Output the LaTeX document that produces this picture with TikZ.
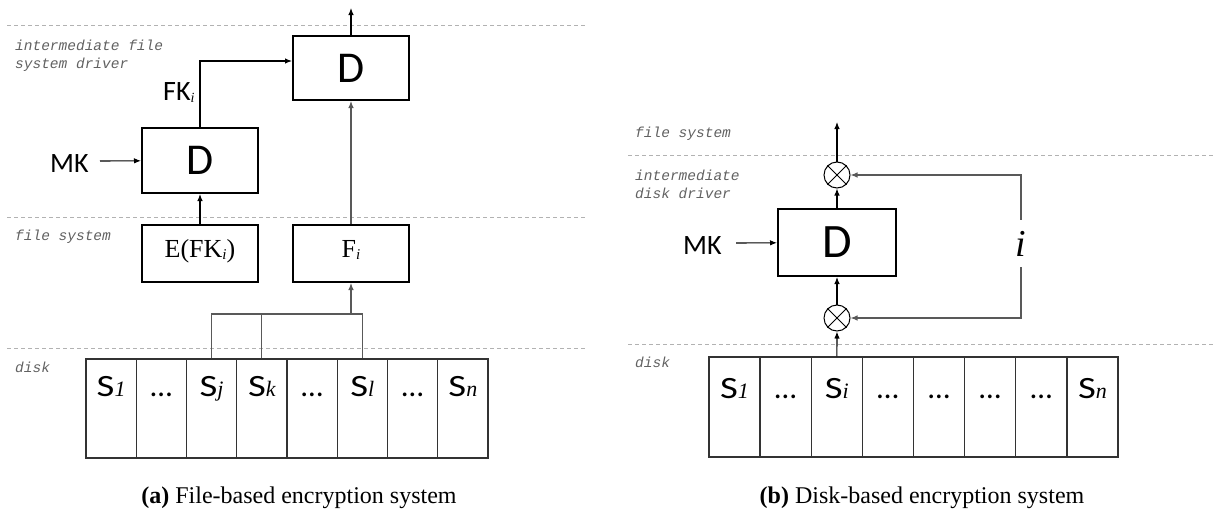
\documentclass[tikz,border=0pt]{standalone}
\usepackage{fontspec}
\usepackage{graphicx}
\setmainfont{Liberation Serif}
\newfontfamily\calib{Carlito}
\newfontfamily\monof{Liberation Mono}
\usetikzlibrary{arrows.meta}
\newcommand\fsz[1]{\fontsize{#1}{#1}\selectfont}
\newcommand\Ssub[1]{{\calib\fsz{31}\scalebox{1.25}[1]{S}}{\fsz{22}\itshape #1}}
\newcommand\Dots{{\calib\fsz{31}…}}
\begin{document}
\begin{tikzpicture}[x=1pt,y=-1pt,
  arr/.style={-{Latex[length=7pt,width=5.5pt]}, line width=1.1pt},
  gc/.style={draw=black!65},
  box/.style={draw, line width=2pt, inner sep=0pt},
  cell/.style={draw=black!80, line width=1.3pt, inner sep=0pt},
  dashl/.style={draw=black!30, line width=1pt, dash pattern=on 4pt off 3pt},
  lay/.style={font=\monof\itshape\fsz{14.5}, text=black!62, inner sep=0pt, anchor=base west},
  big/.style={font=\calib\fsz{28}, inner sep=0pt},
  dlab/.style={font=\calib\fsz{44}},
  captxt/.style={anchor=base, font=\fsz{24}, inner sep=0pt},
  xcirc/.style={circle, draw, line width=1pt, minimum size=26pt, inner sep=0pt}]
\useasboundingbox (0,0) rectangle (1213,514);

% ---------------- left panel ----------------
\draw[dashl] (7,25) -- (585,25);
\draw[dashl] (7,217) -- (585,217);
\draw[dashl] (7,348) -- (585,348);
\node[lay] (lab1a) at (15,50) {intermediate file};
\node[lay] (lab1b) at (15,68) {system driver};
\node[lay] (lab2) at (15,240) {file system};
\node[lay] (lab3) at (15,372) {disk};

\node[box, minimum width=116pt, minimum height=64pt, dlab] (topD) at (351,68) {D};
\node[box, minimum width=116pt, minimum height=65pt, dlab] (lowD) at (200,160.5) {D};
\node[box, minimum width=116pt, minimum height=57pt] (efk) at (200,253.5) {};
\node[box, minimum width=116pt, minimum height=57pt] (fi) at (351,253.5) {};
\node[anchor=base, inner sep=0pt, font=\fsz{26}] (efkt) at (200,257) {E(FK\raisebox{-2pt}{\fsz{15}\itshape i})};
\node[anchor=base, inner sep=0pt, font=\fsz{26}] (fit) at (351,257) {F\raisebox{-2pt}{\fsz{15}\itshape i}};
\node[big, anchor=base west] (mkl) at (50,172) {MK};
\node[big, anchor=base west] (fkl) at (163,100) {FK\raisebox{-2pt}{\rmfamily\fsz{14}\itshape i}};
\coordinate (outL) at (351,8);
\coordinate (mk1) at (100,161);
\coordinate (fkin) at (292,61);
\coordinate (br) at (351,314);

\foreach \k/\t in {1/{\Ssub{1}},2/{\Dots},3/{\Ssub{j}},4/{\Ssub{k}},5/{\Dots},6/{\Ssub{l}},7/{\Dots},8/{\Ssub{n}}}{
  \node[cell, minimum width=50.25pt, minimum height=99pt] (lc\k) at ({86+50.25*(\k-0.5)},408.5) {};
  \node[anchor=base, inner sep=0pt] (lt\k) at ({86+50.25*(\k-0.5)},396) {\t};
}

\draw[arr] (topD) -- (outL);
\draw[arr] (mk1) -- (lowD);
\draw[arr] (efk) -- (lowD);
\draw[arr] (lowD.north) |- (fkin);
\draw[arr, gc] (fi) -- (topD);
\draw[gc, line width=1.1pt] (lc3.north) |- (lc6.north |- br) -- (lc6.north);
\draw[gc, line width=1.1pt] (lc4.north) -- (lc4.north |- br);
\draw[arr, gc] (br) -- (fi);

\node[captxt] (capa) at (299,503) {\textbf{(a)} File-based encryption system};

% ---------------- right panel ----------------
\draw[dashl] (628,155) -- (1213,155);
\draw[dashl] (628,344) -- (1213,344);
\node[lay] (rlab1) at (635,137) {file system};
\node[lay] (rlab2a) at (635,180) {intermediate};
\node[lay] (rlab2b) at (635,198) {disk driver};
\node[lay] (rlab3) at (635,367) {disk};

\node[box, minimum width=118pt, minimum height=67pt, font=\calib\fsz{48}] (rD) at (837,242.5) {D};
\node[xcirc] (ct) at (837,175) {};
\node[xcirc] (cb) at (837,318) {};
\draw[line width=1pt] (ct.north west) -- (ct.south east) (ct.north east) -- (ct.south west);
\draw[line width=1pt] (cb.north west) -- (cb.south east) (cb.north east) -- (cb.south west);
\node[big, anchor=base west] (mkr) at (683,254) {MK};
\node[inner sep=0pt, minimum height=47pt, font=\fsz{38}\itshape] (ilab) at (1021,243.5) {i};
\coordinate (outR) at (837,122);
\coordinate (mk2) at (736,243);

\foreach \k/\t in {1/{\Ssub{1}},2/{\Dots},3/{\Ssub{i}},4/{\Dots},5/{\Dots},6/{\Dots},7/{\Dots},8/{\Ssub{n}}}{
  \node[cell, minimum width=51.125pt, minimum height=100pt] (rc\k) at ({709+51.125*(\k-0.5)},407) {};
  \node[anchor=base, inner sep=0pt] (rt\k) at ({709+51.125*(\k-0.5)},398) {\t};
}

\draw[arr] (ct) -- (outR);
\draw[arr] (rD) -- (ct);
\draw[arr] (cb) -- (rD);
\draw[arr] (rc3) -- (cb);
\draw[arr] (mk2) -- (rD);
\draw[arr, gc] (ilab.north) |- (ct);
\draw[arr, gc] (ilab.south) |- (cb);

\node[captxt] (capb) at (922,503) {\textbf{(b)} Disk-based encryption system};
\end{tikzpicture}
\end{document}
